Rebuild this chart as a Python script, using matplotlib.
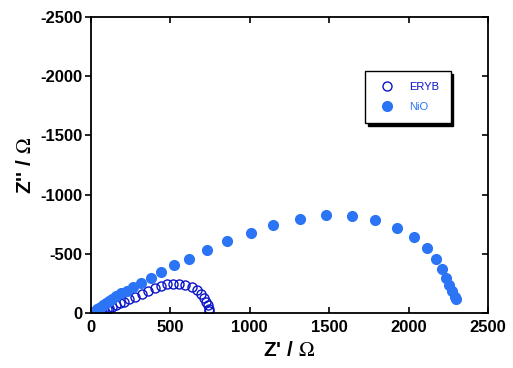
import numpy as np
import matplotlib.pyplot as plt

plt.rcParams['axes.unicode_minus'] = False
plt.rcParams['mathtext.fontset'] = 'stix'

# Datos (Nyquist)
zre_nio = [20, 24, 30, 38, 48, 60, 75, 92, 112, 135, 160, 190, 225, 266, 316, 380,
           443, 525, 620, 728, 854, 1006, 1146, 1316, 1481, 1646, 1791, 1924, 2032,
           2114, 2171, 2209, 2234, 2253, 2272, 2291, 2297]
zim_nio = [5, 12, 20, 30, 40, 52, 66, 82, 100, 120, 140, 165, 190, 220, 254, 297,
           347, 407, 458, 534, 610, 678, 746, 797, 831, 822, 788, 720, 644,
           551, 458, 373, 297, 237, 186, 136, 119]

zre_eryb = [44, 55, 68, 82, 98, 115, 135, 158, 183, 210, 240, 278, 323, 361, 405,
            443, 481, 519, 557, 595, 633, 665, 690, 709, 726, 736, 740, 742]
zim_eryb = [0, 7, 14, 22, 31, 41, 53, 66, 81, 97, 116, 136, 161, 186, 212,
            229, 246, 246, 246, 237, 220, 195, 161, 127, 93, 64, 38, 15]

c_eryb = '#0a14c8'
c_nio = '#2a74f5'

fig = plt.figure(figsize=(5.13, 3.68), dpi=100)
ax = fig.add_axes([91/513, 1 - 313/368, 397/513, 296/368])

ax.plot(zre_eryb, -np.array(zim_eryb), 'o', mfc='none', mec=c_eryb, ms=6.5, mew=1.0, label='ERYB')
ax.plot(zre_nio, -np.array(zim_nio), 'o', color=c_nio, ms=7, label='NiO')

ax.set_xlim(0, 2500)
ax.set_ylim(0, -2500)
ax.set_xticks([0, 500, 1000, 1500, 2000, 2500])
ax.set_yticks([0, -500, -1000, -1500, -2000, -2500])

for s in ax.spines.values():
    s.set_linewidth(1.3)

ax.tick_params(axis='x', direction='in', top=True, length=4, width=1.2, pad=5)
ax.tick_params(axis='y', direction='in', right=True, length=4, width=1.2, pad=6)
# ticks izquierdos hacia afuera, derechos hacia adentro
for tk in ax.yaxis.get_major_ticks():
    tk.tick1line.set_marker(0)
for t in ax.get_xticklabels() + ax.get_yticklabels():
    t.set_fontfamily('Liberation Sans')
    t.set_fontweight('bold')
    t.set_fontsize(12)

ax.set_xlabel("Z' / $\\Omega$", fontsize=15, fontweight='bold', family='Liberation Sans', labelpad=4)
ax.set_ylabel("Z'' / $\\Omega$", fontsize=15, fontweight='bold', family='Liberation Sans', labelpad=4)

leg = ax.legend(loc='upper left', bbox_to_anchor=(274/397, 1 - 54/296), frameon=True,
                fancybox=False, shadow={'color': 'black', 'alpha': 1}, edgecolor='black',
                prop={'family': 'Liberation Sans', 'size': 8}, borderpad=1.0,
                labelspacing=0.9, handletextpad=1.0, borderaxespad=0)
leg.get_frame().set_linewidth(1.0)
leg.get_texts()[0].set_color(c_eryb)
leg.get_texts()[1].set_color(c_nio)

fig.savefig('out.png', dpi=100)
